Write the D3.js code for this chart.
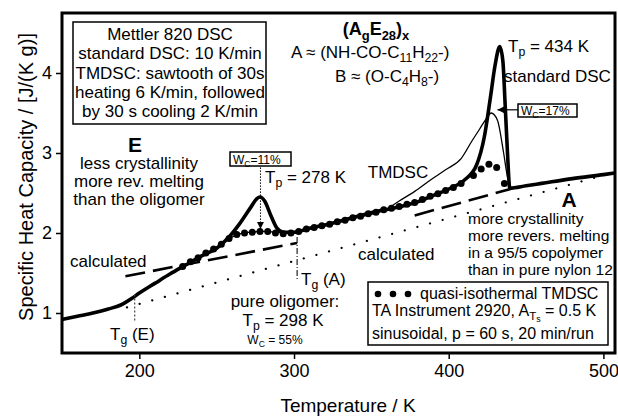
<!DOCTYPE html>
<html>
<head>
<meta charset="utf-8">
<script src="https://cdn.jsdelivr.net/npm/d3@7"></script>
<style>
  body { margin: 0; background: #fff; }
  svg { display: block; font-family: "Liberation Sans", Arial, Helvetica, sans-serif; }
</style>
</head>
<body>
<svg id="chart" width="618" height="416"></svg>
<script>
// standard DSC, 10 K/min (thick line)
const dscT  = [150, 160, 170, 180, 188, 195, 200, 210, 220, 230, 240, 250, 258, 265, 272, 276, 278, 281, 285, 289, 293, 300, 310, 320, 330, 343, 356, 369, 380, 390, 400, 410, 418, 423, 427, 430, 433, 435, 436.5, 438, 439.5, 450, 460, 480, 500, 507.5];
const dscCp = [0.92, 0.96, 1.00, 1.05, 1.10, 1.18, 1.25, 1.37, 1.49, 1.60, 1.71, 1.81, 1.95, 2.12, 2.32, 2.43, 2.45, 2.40, 2.22, 2.06, 2.01, 2.01, 2.06, 2.10, 2.15, 2.22, 2.28, 2.33, 2.39, 2.47, 2.55, 2.66, 2.85, 3.20, 3.70, 4.10, 4.33, 4.15, 3.60, 3.00, 2.56, 2.59, 2.62, 2.68, 2.73, 2.75];

// sawtooth TMDSC (thin line)
const tmT  = [250, 258, 265, 272, 280, 288, 295, 305, 320, 340, 360, 368, 378, 388, 398, 408, 415, 420, 424, 427.5, 431.5, 435.5, 438, 440];
const tmCp = [1.81, 1.93, 1.99, 2.01, 2.02, 2.01, 2.00, 2.03, 2.09, 2.19, 2.30, 2.40, 2.52, 2.66, 2.79, 2.93, 3.15, 3.30, 3.42, 3.50, 3.41, 3.00, 2.70, 2.57];

// quasi-isothermal TMDSC (big dots)
const qiT  = [228, 233, 238, 243, 248, 253, 258, 263, 268, 273, 278, 283, 288, 293, 298, 303, 308, 313, 318, 323, 328, 333, 338, 343, 348, 353, 358, 363, 368, 373, 378, 383, 388, 393, 398, 403, 408, 416, 421, 426, 431, 436];
const qiCp = [1.58, 1.64, 1.69, 1.75, 1.80, 1.86, 1.93, 1.98, 2.00, 2.01, 2.02, 2.02, 2.00, 1.99, 2.00, 2.02, 2.05, 2.07, 2.09, 2.11, 2.14, 2.16, 2.19, 2.21, 2.24, 2.26, 2.29, 2.31, 2.33, 2.36, 2.38, 2.42, 2.46, 2.49, 2.53, 2.57, 2.62, 2.72, 2.80, 2.86, 2.82, 2.62];

// calculated baselines
const calcET  = [191, 302],   calcECp = [1.46, 1.875];   // solid E (dashed)
const calcAT  = [378, 440],   calcACp = [2.22, 2.55];    // solid A (dashed)
const liqT    = [192, 507.5], liqCp   = [1.07, 2.76];    // liquid (dotted)

const xTicks = [200, 300, 400, 500];
const yTicks = [1, 2, 3, 4];

const svg = d3.select('#chart');
const mLeft = 62, mRight = 615, mTop = 13, mBottom = 353;

const x = d3.scaleLinear().domain([150, 507.5]).range([mLeft, mRight]);
const y = d3.scaleLinear().domain([0.5, 4.75]).range([mBottom, mTop]);

const defs = svg.append('defs');
defs.append('clipPath').attr('id', 'clip')
  .append('rect').attr('x', mLeft).attr('y', mTop).attr('width', mRight - mLeft).attr('height', mBottom - mTop);
defs.append('marker').attr('id', 'arr').attr('viewBox', '0 0 10 10')
  .attr('refX', 10).attr('refY', 5).attr('markerWidth', 7).attr('markerHeight', 7).attr('orient', 'auto')
  .attr('markerUnits', 'userSpaceOnUse')
  .append('path').attr('d', 'M0,0L10,5L0,10z').attr('fill', '#000');

// axes
const xAxis = svg.append('g')
  .attr('transform', 'translate(0,' + mBottom + ')')
  .call(d3.axisBottom(x).tickValues(xTicks).tickSize(6).tickPadding(5));
const yAxis = svg.append('g')
  .attr('transform', 'translate(' + mLeft + ',0)')
  .call(d3.axisLeft(y).tickValues(yTicks).tickSize(6).tickPadding(4).tickFormat(d3.format('d')));
[xAxis, yAxis].forEach(a => {
  a.select('.domain').remove();
  a.selectAll('line').attr('stroke', '#000').attr('stroke-width', 1.5);
  a.selectAll('text').attr('font-size', 18).attr('fill', '#000').attr('font-family', 'inherit');
});

svg.append('text')
  .attr('x', 348).attr('y', 412).attr('text-anchor', 'middle').attr('font-size', 19)
  .text('Temperature / K');
svg.append('text')
  .attr('transform', 'translate(33,177) rotate(-90)').attr('text-anchor', 'middle').attr('font-size', 20)
  .text('Specific Heat Capacity / [J/(K g)]');

const plot = svg.append('g').attr('clip-path', 'url(#clip)');

const zip = (a, b) => a.map((v, i) => [v, b[i]]);
const line = d3.line().x(d => x(d[0])).y(d => y(d[1]));
const smooth = d3.line().x(d => x(d[0])).y(d => y(d[1])).curve(d3.curveMonotoneX);

// calculated lines
plot.append('path').attr('d', line(zip(liqT, liqCp)))
  .attr('fill', 'none').attr('stroke', '#000').attr('stroke-width', 2.2)
  .attr('stroke-linecap', 'round').attr('stroke-dasharray', '0.1 13');
plot.append('path').attr('d', line(zip(calcET, calcECp)))
  .attr('fill', 'none').attr('stroke', '#000').attr('stroke-width', 2.6).attr('stroke-dasharray', '20 8');
plot.append('path').attr('d', line(zip(calcAT, calcACp)))
  .attr('fill', 'none').attr('stroke', '#000').attr('stroke-width', 2.6).attr('stroke-dasharray', '20 8');

// TMDSC thin line
plot.append('path').attr('d', smooth(zip(tmT, tmCp)))
  .attr('fill', 'none').attr('stroke', '#000').attr('stroke-width', 1.3);

// standard DSC thick line
plot.append('path').attr('d', smooth(zip(dscT, dscCp)))
  .attr('fill', 'none').attr('stroke', '#000').attr('stroke-width', 3.6).attr('stroke-linejoin', 'round');

// quasi-isothermal dots
plot.selectAll('circle.qi').data(zip(qiT, qiCp)).enter().append('circle')
  .attr('class', 'qi').attr('cx', d => x(d[0])).attr('cy', d => y(d[1])).attr('r', 3.5).attr('fill', '#000');

// Tg markers
plot.append('line').attr('x1', x(197)).attr('x2', x(197)).attr('y1', y(1.23)).attr('y2', y(0.9))
  .attr('stroke', '#444').attr('stroke-width', 1.2).attr('stroke-dasharray', '2 2');
plot.append('line').attr('x1', x(302)).attr('x2', x(302)).attr('y1', y(1.95)).attr('y2', y(1.41))
  .attr('stroke', '#222').attr('stroke-width', 1.2).attr('stroke-dasharray', '6 2 1 2');

// arrows
svg.append('line').attr('x1', x(278.3)).attr('x2', x(278.3)).attr('y1', y(2.82)).attr('y2', y(2.05))
  .attr('stroke', '#000').attr('stroke-width', 1).attr('stroke-dasharray', '1.5 1.5').attr('marker-end', 'url(#arr)');
svg.append('line').attr('x1', x(445)).attr('x2', x(431.5)).attr('y1', y(3.54)).attr('y2', y(3.54))
  .attr('stroke', '#000').attr('stroke-width', 1.2).attr('marker-end', 'url(#arr)');

// frame
svg.append('rect').attr('x', mLeft).attr('y', mTop).attr('width', mRight - mLeft).attr('height', mBottom - mTop)
  .attr('fill', 'none').attr('stroke', '#000').attr('stroke-width', 3);

// rich text helper: parts are strings or [text, level]
function rich(px, py, parts, size, anchor, bold) {
  const t = svg.append('text').attr('x', px).attr('y', py).attr('font-size', size)
    .attr('text-anchor', anchor || 'start');
  if (bold) t.attr('font-weight', 'bold');
  let shift = 0;
  parts.forEach(p => {
    const s = Array.isArray(p) ? p[0] : p;
    const lvl = Array.isArray(p) ? p[1] : 0;
    const target = lvl === 0 ? 0 : (lvl === 1 ? size * 0.26 : size * 0.36);
    const ts = t.append('tspan').text(s).attr('dy', target - shift);
    if (lvl > 0) ts.attr('font-size', size * (lvl === 1 ? 0.72 : 0.55));
    shift = target;
  });
  return t;
}
function box(x0, y0, w, h) {
  svg.append('rect').attr('x', x0).attr('y', y0).attr('width', w).attr('height', h)
    .attr('fill', '#fff').attr('stroke', '#000').attr('stroke-width', 1.5);
}

// top-left box
box(73, 22, 193, 102);
['Mettler 820 DSC', 'standard DSC: 10 K/min', 'TMDSC: sawtooth of 30s', 'heating 6 K/min, followed', 'by 30 s cooling 2 K/min']
  .forEach((s, i) => rich(170, 40 + i * 19.3, [s], 17, 'middle'));

// E block
rich(135, 152, ['E'], 21, 'middle', true);
['less crystallinity', 'more rev. melting', 'than the oligomer']
  .forEach((s, i) => rich(139, 169 + i * 18, [s], 17, 'middle'));

// formula
rich(376, 35, ['(A', ['g', 1], 'E', ['28', 1], ')', ['x', 1]], 18, 'middle', true);
rich(291, 58, ['A \u2248 (NH-CO-C', ['11', 1], 'H', ['22', 1], '-)'], 17);
rich(335, 82, ['B \u2248 (O-C', ['4', 1], 'H', ['8', 1], '-)'], 17);

rich(508, 52, ['T', ['p', 1], ' = 434 K'], 17);
rich(504, 82, ['standard DSC'], 17);

box(518, 104, 59, 13);
rich(521, 115, ['W', ['C', 1], '=17%'], 12);

box(230, 152, 61, 14);
rich(233, 163.5, ['W', ['C', 1], '=11%'], 12);
rich(265, 183, ['T', ['p', 1], ' = 278 K'], 17);

rich(398, 178, ['TMDSC'], 17, 'middle');
rich(70, 267, ['calculated'], 17);
rich(358, 260, ['calculated'], 17);

rich(110, 340, ['T', ['g', 1], ' (E)'], 17);
rich(301, 285, ['T', ['g', 1], ' (A)'], 17);
rich(285, 307, ['pure oligomer:'], 17, 'middle');
rich(283, 326, ['T', ['p', 1], ' = 298 K'], 17, 'middle');
rich(275, 344, ['W', ['C', 1], ' = 55%'], 12, 'middle');

rich(569, 207, ['A'], 21, 'middle', true);
['more crystallinity', 'more revers. melting', 'in a 95/5 copolymer', 'than in pure nylon 12']
  .forEach((s, i) => rich(468, 224 + i * 17, [s], 15.5));

// legend box
box(368, 282, 240, 63);
[378, 393, 408].forEach(cx => svg.append('circle').attr('cx', cx).attr('cy', 294).attr('r', 3.3).attr('fill', '#000'));
rich(420, 299, ['quasi-isothermal TMDSC'], 16);
rich(372, 316, ['TA Instrument 2920,  A', ['T', 1], ['s', 2], ' = 0.5 K'], 16);
rich(372, 339, ['sinusoidal, p = 60 s,  20 min/run'], 16);
</script>
</body>
</html>
